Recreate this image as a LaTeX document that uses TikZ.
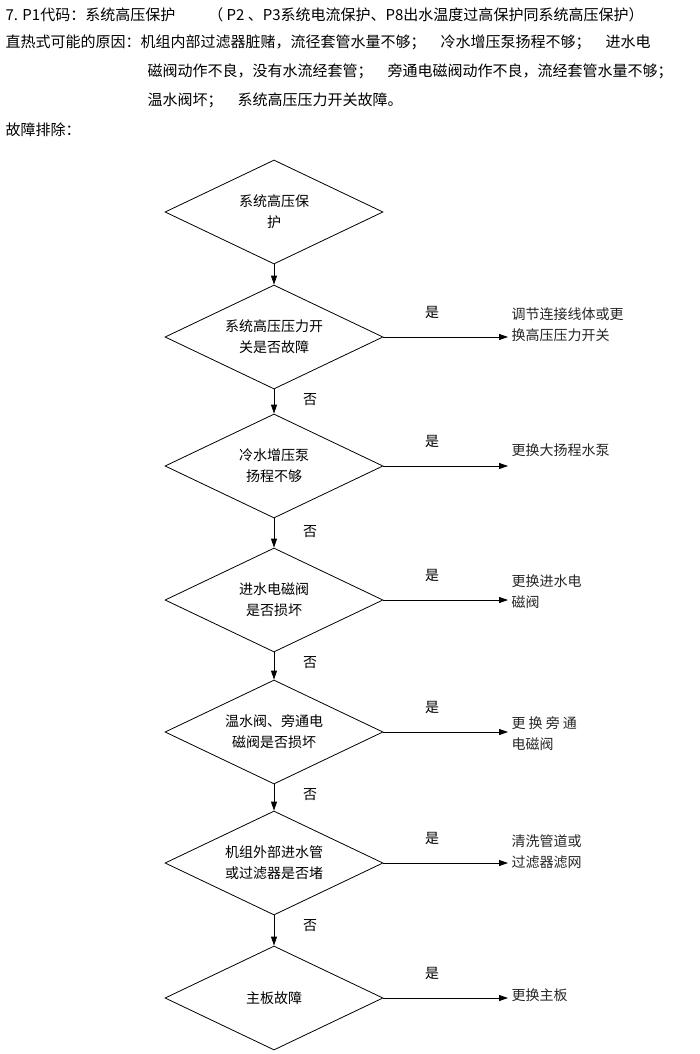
\documentclass[tikz,border=0pt]{standalone}
\usepackage{fontspec}
\setmainfont{Noto Sans CJK SC}
\usetikzlibrary{shapes.geometric,arrows.meta}
\begin{document}
\begin{tikzpicture}[x=1pt,y=-1pt,
 dia/.style={draw,thick,diamond,aspect=2.1,minimum width=218pt,minimum height=104pt,inner sep=0pt,align=center,font=\fontsize{14}{21}\selectfont},
 res/.style={anchor=west,align=left,font=\fontsize{14}{21}\selectfont,text=black!85},
 lab/.style={font=\fontsize{14}{15}\selectfont},
 arr/.style={thick,-{Triangle[length=9pt,width=6pt]}},
 txt/.style={anchor=west,font=\fontsize{15}{16}\selectfont}]
\useasboundingbox (0,0) rectangle (700,1054);
\node[txt] (t1) at (2,15) {7. P1代码：系统高压保护\hspace{2.2em}（ P2 、P3系统电流保护、P8出水温度过高保护同系统高压保护）};
\node[txt] (t2) at (2,42) {直热式可能的原因：机组内部过滤器脏赌，流径套管水量不够；\hspace{1em}冷水增压泵扬程不够；\hspace{1em}进水电};
\node[txt] (t3) at (144,71) {磁阀动作不良，没有水流经套管；\hspace{1em}旁通电磁阀动作不良，流经套管水量不够；};
\node[txt] (t4) at (144,100) {温水阀坏；\hspace{1em}系统高压压力开关故障。};
\node[txt] (t5) at (2,130) {故障排除：};
\node[dia] (d1) at (274,212) {系统高压保\\护};
\node[dia] (d2) at (274,337) {系统高压压力开\\关是否故障};
\node[dia] (d3) at (274,466) {冷水增压泵\\扬程不够};
\node[dia] (d4) at (274,600) {进水电磁阀\\是否损坏};
\node[dia] (d5) at (274,732) {温水阀、旁通电\\磁阀是否损坏};
\node[dia] (d6) at (274,863) {机组外部进水管\\或过滤器是否堵};
\node[dia] (d7) at (274,998) {主板故障};
\node[res] (r2) at (508,325) {调节连接线体或更\\换高压压力开关};
\node[res] (r3) at (508,450) {更换大扬程水泵};
\node[res] (r4) at (508,592) {更换进水电\\磁阀};
\node[res] (r5) at (508,734) {更 换 旁 通\\电磁阀};
\node[res] (r6) at (508,852) {清洗管道或\\过滤器滤网};
\node[res] (r7) at (508,995) {更换主板};
\foreach \a/\b in {d1/d2,d2/d3,d3/d4,d4/d5,d5/d6,d6/d7}{\draw[arr] (\a.south) -- (\b.north);}
\foreach \d/\y in {d2/337,d3/466,d4/600,d5/732,d6/863,d7/998}{
 \coordinate (e\d) at (508,\y);
 \draw[arr] (\d.east) -- (e\d);
 \node[lab] (y\d) at (432,\y-25) {是};}
\foreach \n/\y in {1/400,2/532,3/663,4/795,5/926}{\node[lab] (n\n) at (310,\y) {否};}
\end{tikzpicture}
\end{document}
